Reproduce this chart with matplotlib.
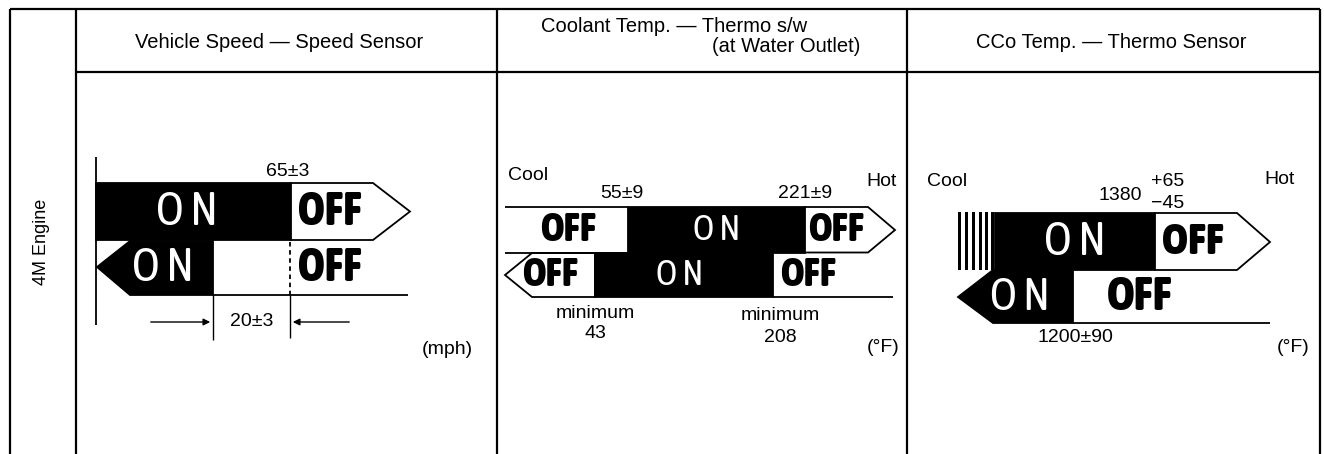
import matplotlib
matplotlib.use("Agg")
import matplotlib.pyplot as plt
from matplotlib.patches import Polygon, Rectangle

# ---- texts / values ----
row_label = "4M Engine"
titles = ["Vehicle Speed — Speed Sensor",
          "Coolant Temp. — Thermo s/w",
          "CCo Temp. — Thermo Sensor"]
title2_sub = "(at Water Outlet)"
units = ["(mph)", "(°F)", "(°F)"]

speed_off = "65±3"        # ON -> OFF going up
speed_hyst = "20±3"       # OFF -> ON going down (difference)
coolant_up = ["55±9", "221±9"]
coolant_down = ["43", "208"]
cco_up = ["1380", "+65", "−45"]
cco_down = "1200±90"

FONT = ["Liberation Sans", "DejaVu Sans"]
NARROW = ["Asap Condensed", "Liberation Sans"]
LW = 1.3
SMALL = 14

fig = plt.figure(figsize=(13.24, 4.54), dpi=100)
ax = fig.add_axes([0, 0, 1, 1])
ax.set_xlim(0, 1324)
ax.set_ylim(454, 0)
ax.axis("off")


def line(xs, ys, **kw):
    kw.setdefault("color", "black")
    kw.setdefault("lw", LW)
    ax.plot(xs, ys, solid_capstyle="butt", **kw)


def poly(pts, fc):
    ax.add_patch(Polygon(pts, closed=True, fc=fc, ec="black", lw=LW, joinstyle="miter"))


def txt(x, y, s, size=SMALL, **kw):
    kw.setdefault("ha", "center")
    kw.setdefault("va", "center")
    kw.setdefault("family", FONT)
    ax.text(x, y, s, fontsize=size, **kw)


def on(x, y, size=28):
    txt(x, y, "O N", size=size, color="white", family=NARROW, fontweight="normal")


def off(x, y, size=28):
    txt(x, y, "OFF", size=size, color="black", family=NARROW, fontweight="heavy")


# ---- table frame ----
line([10, 10], [9, 454], lw=1.6)
line([10, 1320], [9, 9], lw=1.6)
line([1320, 1320], [9, 454], lw=1.6)
line([76, 1320], [72, 72], lw=1.6)
for cx in [76, 497, 907]:
    line([cx, cx], [9, 454], lw=1.6)

txt(42, 242, row_label, size=13, rotation=90)
txt(279, 42, titles[0], size=14.5)
txt(541, 27, titles[1], size=14.5, ha="left")
txt(860, 47, title2_sub, size=14.5, ha="right")
txt(1111, 42, titles[2], size=14.5)

# ---- panel 1: vehicle speed ----
line([96, 96], [157, 325])
ax.add_patch(Rectangle((96, 183), 195, 57, fc="black", ec="black", lw=LW))
poly([(291, 183), (373, 183), (410, 211.5), (373, 240), (291, 240)], "white")
poly([(97, 267), (130, 241), (213, 241), (213, 295), (130, 295)], "black")
line([213, 408], [295, 295])
line([290, 290], [242, 295], ls=(0, (2.5, 2)))
line([213, 213], [295, 340], lw=1.0)
line([290, 290], [295, 338], lw=1.0)
ax.annotate("", xy=(213, 322), xytext=(148, 322),
            arrowprops=dict(arrowstyle="-|>", color="black", lw=1.0, mutation_scale=10))
ax.annotate("", xy=(290, 322), xytext=(352, 322),
            arrowprops=dict(arrowstyle="-|>", color="black", lw=1.0, mutation_scale=10))
txt(252, 322, speed_hyst)
txt(288, 172, speed_off)
txt(447, 350, units[0])
on(187, 212, 34)
off(330, 212, 33)
on(163, 268, 34)
off(330, 268, 33)

# ---- panel 2: coolant temp ----
line([505, 628], [207, 207])
line([505, 628], [252.5, 252.5])
ax.add_patch(Rectangle((628, 207), 177, 45.5, fc="black", ec="black", lw=LW))
poly([(805, 207), (868, 207), (895, 230), (868, 252.5), (805, 252.5)], "white")
poly([(505, 275), (532, 253), (595, 253), (595, 297), (532, 297)], "white")
ax.add_patch(Rectangle((595, 253), 178, 44, fc="black", ec="black", lw=LW))
line([773, 893], [297, 297])
txt(528, 175, "Cool")
txt(882, 182, "Hot")
txt(622, 193, coolant_up[0])
txt(805, 193, coolant_up[1])
txt(595, 313, "minimum")
txt(595, 334, coolant_down[0])
txt(780, 316, "minimum")
txt(780, 337, coolant_down[1])
txt(883, 347, units[1])
off(568, 230, 29)
on(717, 230, 26)
off(836, 230, 29)
off(550, 275, 29)
on(680, 275, 26)
off(808, 275, 29)

# ---- panel 3: CCo temp ----
for sx in [958, 965, 972, 978.5, 985, 991]:
    ax.add_patch(Rectangle((sx, 212), 3, 58, fc="black", ec="none"))
ax.add_patch(Rectangle((995, 213), 160, 57, fc="black", ec="black", lw=LW))
poly([(1155, 213), (1237, 213), (1270, 242), (1237, 270), (1155, 270)], "white")
poly([(958, 297), (993, 270), (1073, 270), (1073, 323), (993, 323)], "black")
line([1073, 1270], [323, 323])
txt(947, 182, "Cool")
txt(1280, 180, "Hot")
txt(1120, 196, cco_up[0])
txt(1168, 182, cco_up[1])
txt(1168, 203, cco_up[2])
txt(1075, 338, cco_down)
txt(1293, 347, units[2])
on(1075, 242, 34)
off(1193, 242, 32)
on(1020, 297, 33)
off(1140, 297, 34)

fig.savefig("out.png", dpi=100, facecolor="white")
